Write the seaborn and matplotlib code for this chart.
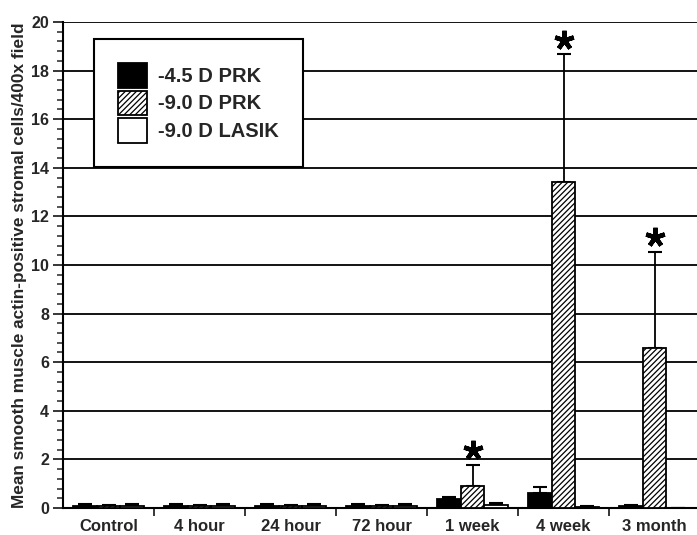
import matplotlib
matplotlib.use("Agg")
import matplotlib.pyplot as plt
from matplotlib.ticker import MultipleLocator, FixedLocator
import seaborn as sns
import numpy as np
import pandas as pd

# values (mean, upper error)
groups = ["Control", "4 hour", "24 hour", "72 hour", "1 week", "4 week", "3 month"]
treatments = ["-4.5 D PRK", "-9.0 D PRK", "-9.0 D LASIK"]
prk45 = [0.1, 0.1, 0.1, 0.1, 0.35, 0.63, 0.1]
prk90 = [0.08, 0.08, 0.08, 0.08, 0.89, 13.4, 6.6]
lasik90 = [0.1, 0.1, 0.1, 0.1, 0.14, 0.05, 0.0]
prk45_err = [0.08, 0.08, 0.08, 0.08, 0.1, 0.25, 0.03]
prk90_err = [0.04, 0.04, 0.04, 0.04, 0.9, 5.27, 3.95]
lasik90_err = [0.08, 0.08, 0.08, 0.08, 0.08, 0.02, 0.0]
significant = ["1 week", "4 week", "3 month"]  # starred -9.0 D PRK groups

df = pd.DataFrame({
    "group": groups * 3,
    "treatment": np.repeat(treatments, len(groups)),
    "value": prk45 + prk90 + lasik90,
})
errs = [prk45_err, prk90_err, lasik90_err]

sns.set_style("white")
plt.rcParams["font.family"] = ["Liberation Sans", "DejaVu Sans"]
plt.rcParams["font.weight"] = "bold"
plt.rcParams["hatch.linewidth"] = 0.9

fig = plt.figure(figsize=(6.97, 5.35), dpi=100)
ax = fig.add_axes([63 / 697, 27 / 535, 637 / 697, 486 / 535])

sns.barplot(data=df, x="group", y="value", hue="treatment", order=groups,
            hue_order=treatments, palette=["black", "white", "white"],
            edgecolor="black", linewidth=1.3, width=0.77, errorbar=None,
            legend=False, ax=ax, zorder=3)

hatches = ["", "//////", ""]
for cont, err, h in zip(ax.containers, errs, hatches):
    xs, ys = [], []
    for p in cont.patches:
        p.set_hatch(h)
        xs.append(p.get_x() + p.get_width() / 2)
        ys.append(p.get_height())
    ax.errorbar(xs, ys, yerr=[np.zeros(len(err)), err], fmt="none",
                ecolor="black", elinewidth=1.3, capsize=5, capthick=1.5, zorder=2)

# stars above significant -9.0 D PRK bars
for p, g, v, e in zip(ax.containers[1].patches, groups, prk90, prk90_err):
    if g in significant:
        ax.plot(p.get_x() + p.get_width() / 2, v + e + 0.6, marker=(5, 2, 0),
                markersize=14, markeredgewidth=3.2, color="black", zorder=5)

ax.set_xlim(-0.5, 6.5)
ax.set_ylim(0, 20)
ax.yaxis.set_major_locator(MultipleLocator(2))
ax.yaxis.set_minor_locator(MultipleLocator(0.4))
ax.xaxis.set_minor_locator(FixedLocator(np.arange(0.5, 6, 1)))
ax.grid(axis="y", which="major", color="black", linewidth=1.3)
ax.set_axisbelow(True)

ax.tick_params(axis="y", which="major", direction="out", length=7, width=1.3,
               pad=3, labelsize=11.5, left=True)
ax.tick_params(axis="y", which="minor", direction="out", length=4, width=1.1, left=True)
ax.tick_params(axis="x", which="major", length=0, pad=8, labelsize=12)
ax.tick_params(axis="x", which="minor", direction="out", length=6, width=1.3, bottom=True)
for lab in ax.get_xticklabels() + ax.get_yticklabels():
    lab.set_fontweight("bold")

sns.despine(ax=ax)
for s in ["left", "bottom"]:
    ax.spines[s].set_color("black")
    ax.spines[s].set_linewidth(1.5)

ax.set_xlabel("")
ax.set_ylabel("Mean smooth muscle actin-positive stromal cells/400x field",
              fontsize=12.4, fontweight="bold")
ax.yaxis.set_label_coords(-0.056, 0.5)

leg = ax.legend(ax.containers, treatments, loc="upper left",
                bbox_to_anchor=(0.0487, 0.965), borderaxespad=0, fancybox=False,
                edgecolor="black", framealpha=1, fontsize=14.5, handlelength=1.45,
                handleheight=1.5, labelspacing=0.14, handletextpad=0.55, borderpad=1.2)
leg.get_frame().set_linewidth(1.5)
for t in leg.get_texts():
    t.set_fontweight("bold")

fig.savefig("out.png", dpi=100)
